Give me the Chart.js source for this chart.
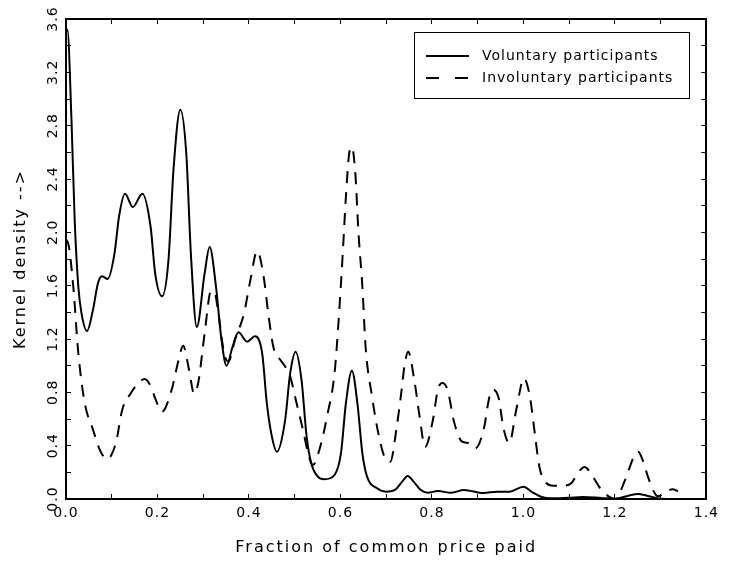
<!DOCTYPE html>
<html>
<head>
<meta charset="utf-8">
<title>Kernel density</title>
<script src="https://cdn.jsdelivr.net/npm/chart.js@4.4.1/dist/chart.umd.min.js"></script>
<style>
  html, body { margin: 0; padding: 0; background: #fff; }
  #chart { display: block; }
</style>
</head>
<body>
<canvas id="chart" width="730" height="561"></canvas>
<script>
// values
const seriesNames = ["Voluntary participants", "Involuntary participants"];
const xTitle = "Fraction of common price paid";
const yTitle = "Kernel density -->";

const voluntaryX = [0.000, 0.003, 0.012, 0.019, 0.027, 0.034, 0.046, 0.059, 0.070, 0.079, 0.091,
  0.106, 0.116, 0.129, 0.146, 0.167, 0.185, 0.195, 0.210, 0.224, 0.235, 0.250, 0.263, 0.273,
  0.286, 0.303, 0.314, 0.328, 0.339, 0.351, 0.364, 0.377, 0.396, 0.413, 0.429, 0.439, 0.450,
  0.461, 0.479, 0.490, 0.502, 0.515, 0.526, 0.536, 0.550, 0.565, 0.587, 0.601, 0.612, 0.625,
  0.637, 0.648, 0.658, 0.680, 0.700, 0.720, 0.735, 0.747, 0.760, 0.775, 0.791, 0.813, 0.842,
  0.870, 0.913, 0.942, 0.970, 1.000, 1.020, 1.040, 1.060, 1.100, 1.130, 1.170, 1.200, 1.230,
  1.250, 1.270, 1.300, 1.340];
const voluntaryY = [3.50, 3.52, 2.84, 2.09, 1.59, 1.39, 1.26, 1.42, 1.62, 1.67, 1.65,
  1.84, 2.12, 2.29, 2.19, 2.29, 2.04, 1.69, 1.52, 1.79, 2.47, 2.92, 2.59, 1.84,
  1.29, 1.69, 1.89, 1.59, 1.22, 1.00, 1.14, 1.25, 1.18, 1.22, 1.09, 0.72, 0.47,
  0.355, 0.59, 0.94, 1.105, 0.89, 0.47, 0.27, 0.17, 0.148, 0.18, 0.34, 0.72, 0.962,
  0.72, 0.34, 0.17, 0.08, 0.055, 0.07, 0.13, 0.172, 0.13, 0.07, 0.047, 0.06, 0.047,
  0.068, 0.045, 0.055, 0.055, 0.092, 0.05, 0.015, 0.005, 0.01, 0.015, 0.008, 0.002, 0.025,
  0.037, 0.025, 0.002, 0.0];

const involuntaryX = [0.000, 0.006, 0.016, 0.027, 0.041, 0.059, 0.075, 0.090, 0.109, 0.123,
  0.141, 0.158, 0.172, 0.186, 0.195, 0.210, 0.231, 0.246, 0.256, 0.269, 0.280, 0.289, 0.303,
  0.317, 0.325, 0.332, 0.346, 0.355, 0.370, 0.389, 0.403, 0.418, 0.432, 0.443, 0.454, 0.465,
  0.478, 0.490, 0.504, 0.518, 0.531, 0.540, 0.554, 0.572, 0.587, 0.597, 0.605, 0.612, 0.619,
  0.625, 0.633, 0.639, 0.648, 0.655, 0.669, 0.683, 0.697, 0.709, 0.723, 0.732, 0.741, 0.748,
  0.762, 0.773, 0.785, 0.802, 0.813, 0.823, 0.834, 0.849, 0.866, 0.880, 0.895, 0.913, 0.926,
  0.933, 0.946, 0.956, 0.969, 0.985, 1.001, 1.014, 1.025, 1.035, 1.050, 1.065, 1.090, 1.105,
  1.121, 1.134, 1.144, 1.168, 1.186, 1.200, 1.222, 1.243, 1.251, 1.262, 1.272, 1.283, 1.294,
  1.312, 1.326, 1.338];
const involuntaryY = [1.95, 1.90, 1.59, 1.09, 0.72, 0.52, 0.36, 0.30, 0.42, 0.67,
  0.79, 0.87, 0.90, 0.84, 0.755, 0.655, 0.82, 1.04, 1.15, 0.97, 0.79, 0.87, 1.24,
  1.56, 1.55, 1.42, 1.09, 1.03, 1.20, 1.39, 1.64, 1.86, 1.67, 1.37, 1.13, 1.06,
  1.00, 0.92, 0.72, 0.52, 0.32, 0.255, 0.37, 0.64, 0.94, 1.39, 1.84, 2.27, 2.59,
  2.64, 2.42, 2.02, 1.59, 1.14, 0.77, 0.49, 0.31, 0.28, 0.54, 0.77, 1.02, 1.105,
  0.88, 0.62, 0.39, 0.59, 0.82, 0.87, 0.82, 0.57, 0.43, 0.42, 0.38, 0.52, 0.77,
  0.82, 0.755, 0.54, 0.42, 0.68, 0.905, 0.77, 0.49, 0.24, 0.12, 0.10, 0.10, 0.12,
  0.205, 0.24, 0.21, 0.08, 0.02, 0.0, 0.14, 0.33, 0.355, 0.28, 0.17, 0.07, 0.02,
  0.055, 0.073, 0.058];

function toPoints(xs, ys) {
  return xs.map((x, i) => ({ x: x, y: ys[i] }));
}

const tickFont = { family: "DejaVu Sans", size: 14 };

// IDL style spaced lettering
const spacingPlugin = {
  id: "spacing",
  beforeUpdate(chart) { chart.ctx.letterSpacing = "1px"; },
  beforeDraw(chart) { chart.ctx.letterSpacing = "1px"; }
};

// axis titles and boxed legend
const overlayPlugin = {
  id: "overlay",
  afterDraw(chart) {
    const ctx = chart.ctx;
    const area = chart.chartArea;
    ctx.save();
    ctx.fillStyle = "#000";
    ctx.strokeStyle = "#000";
    ctx.textBaseline = "middle";

    ctx.letterSpacing = "2px";
    ctx.font = '16px "DejaVu Sans"';
    ctx.textAlign = "center";
    ctx.fillText(xTitle, (area.left + area.right) / 2, 548);
    ctx.save();
    ctx.translate(21, (area.top + area.bottom) / 2);
    ctx.rotate(-Math.PI / 2);
    ctx.fillText(yTitle, 0, 0);
    ctx.restore();

    // legend
    ctx.lineWidth = 1;
    ctx.strokeRect(414.5, 32.5, 275, 66);
    ctx.lineWidth = 2;
    ctx.beginPath();
    ctx.moveTo(426, 56);
    ctx.lineTo(469, 56);
    ctx.stroke();
    ctx.setLineDash([13, 16]);
    ctx.beginPath();
    ctx.moveTo(426, 78);
    ctx.lineTo(469, 78);
    ctx.stroke();
    ctx.setLineDash([]);
    ctx.letterSpacing = "1px";
    ctx.font = '14px "DejaVu Sans"';
    ctx.textAlign = "left";
    ctx.fillText(seriesNames[0], 482, 56);
    ctx.fillText(seriesNames[1], 482, 78);
    ctx.restore();
  }
};

const innerGrid = { drawOnChartArea: false, drawTicks: true, tickLength: -5, color: "#000", lineWidth: 1 };
const frameBorder = { display: true, color: "#000", width: 2 };

const ctx = document.getElementById("chart").getContext("2d");
const chart = new Chart(ctx, {
  type: "line",
  data: {
    datasets: [
      {
        label: seriesNames[0],
        data: toPoints(voluntaryX, voluntaryY),
        borderColor: "#000",
        borderWidth: 2,
        pointRadius: 0,
        cubicInterpolationMode: "monotone",
        fill: false,
      },
      {
        label: seriesNames[1],
        data: toPoints(involuntaryX, involuntaryY),
        borderColor: "#000",
        borderWidth: 2,
        borderDash: [12, 9],
        pointRadius: 0,
        cubicInterpolationMode: "monotone",
        fill: false,
      },
    ],
  },
  options: {
    responsive: false,
    animation: false,
    devicePixelRatio: 1,
    layout: { padding: { top: 19, right: 14, left: 0, bottom: 0 } },
    plugins: {
      legend: { display: false },
      tooltip: { enabled: false },
    },
    scales: {
      x: {
        type: "linear",
        position: "bottom",
        min: 0,
        max: 1.4,
        afterFit(scale) { scale.height = 62; },
        grid: innerGrid,
        border: frameBorder,
        ticks: {
          stepSize: 0.1,
          autoSkip: false,
          maxRotation: 0,
          padding: 11,
          color: "#000",
          font: tickFont,
          callback: (v) => (Math.round(v * 10) % 2 === 0 ? v.toFixed(1) : ""),
        },
      },
      x2: {
        type: "linear",
        position: "top",
        min: 0,
        max: 1.4,
        afterFit(scale) { scale.height = 0; },
        grid: innerGrid,
        border: frameBorder,
        ticks: { display: false, stepSize: 0.1 },
      },
      y: {
        type: "linear",
        position: "left",
        min: 0,
        max: 3.6,
        afterFit(scale) { scale.width = 66; },
        grid: innerGrid,
        border: frameBorder,
        ticks: {
          stepSize: 0.2,
          autoSkip: false,
          minRotation: 90,
          maxRotation: 90,
          crossAlign: "center",
          padding: 5,
          color: "#000",
          font: tickFont,
          callback: (v) => (Math.round(v * 10) % 4 === 0 ? v.toFixed(1) : ""),
        },
      },
      y2: {
        type: "linear",
        position: "right",
        min: 0,
        max: 3.6,
        afterFit(scale) { scale.width = 0; },
        grid: innerGrid,
        border: frameBorder,
        ticks: { display: false, stepSize: 0.2 },
      },
    },
  },
  plugins: [spacingPlugin, overlayPlugin],
});
</script>
</body>
</html>
